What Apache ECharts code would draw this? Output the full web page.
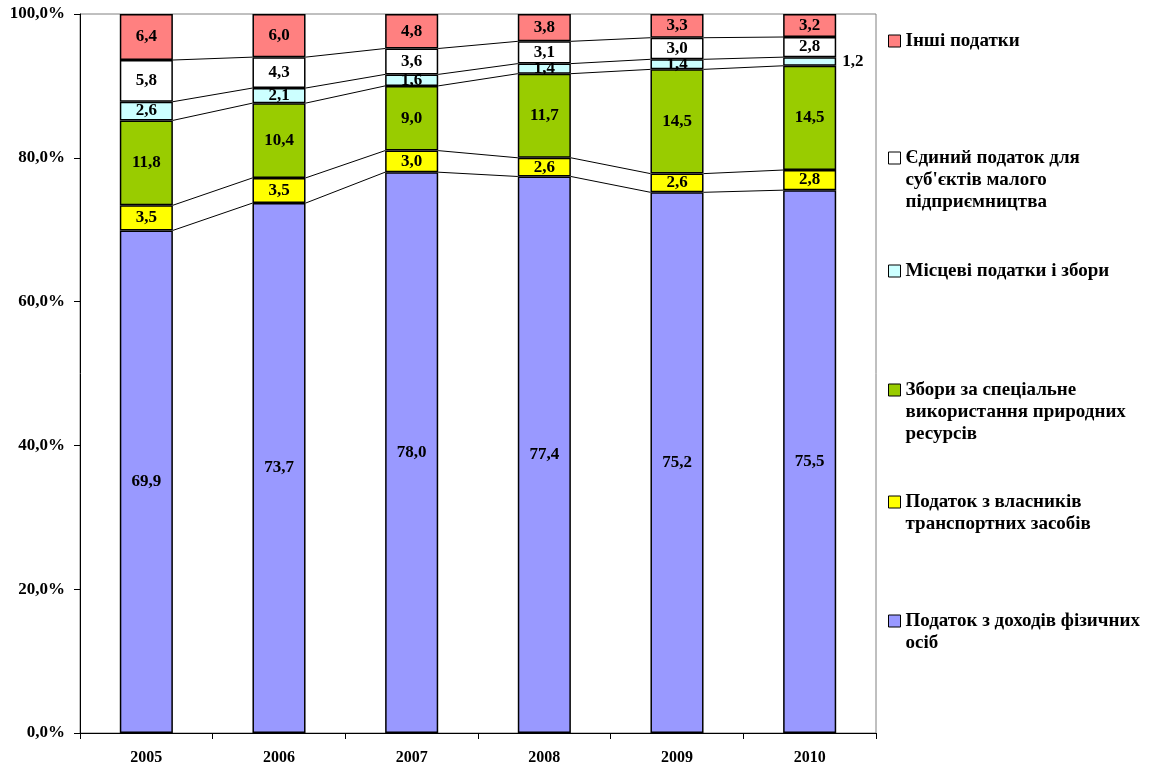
<!DOCTYPE html>
<html>
<head>
<meta charset="utf-8">
<script src="https://cdn.jsdelivr.net/npm/echarts@6/dist/echarts.min.js"></script>
<style>
html,body{margin:0;padding:0;background:#fff;}
#chart{width:1149px;height:769px;}
</style>
</head>
<body>
<div id="chart"></div>
<script>
var years = ['2005', '2006', '2007', '2008', '2009', '2010'];
var seriesNames = [
  'Податок з доходів фізичних осіб',
  'Податок з власників транспортних засобів',
  'Збори за спеціальне використання природних ресурсів',
  'Місцеві податки і збори',
  "Єдиний податок для суб'єктів малого підприємництва",
  'Інші податки'
];
var legendTexts = [
  'Податок з доходів фізичних\nосіб',
  'Податок з власників\nтранспортних засобів',
  'Збори за спеціальне\nвикористання природних\nресурсів',
  'Місцеві податки і збори',
  "Єдиний податок для\nсуб'єктів малого\nпідприємництва",
  'Інші податки'
];
var pit      = [69.9, 73.7, 78.0, 77.4, 75.2, 75.5];
var vehicle  = [3.5, 3.5, 3.0, 2.6, 2.6, 2.8];
var nature   = [11.8, 10.4, 9.0, 11.7, 14.5, 14.5];
var local    = [2.6, 2.1, 1.6, 1.4, 1.4, 1.2];
var single   = [5.8, 4.3, 3.6, 3.1, 3.0, 2.8];
var other    = [6.4, 6.0, 4.8, 3.8, 3.3, 3.2];
var yTicks = [0, 20, 40, 60, 80, 100];

var values = [pit, vehicle, nature, local, single, other];
var colors = ['#9999FF', '#FFFF00', '#99CC00', '#CCFFFF', '#FFFFFF', '#FF8080'];
var legendY = [621, 502, 390, 271, 158, 41];
var FONT = '"Liberation Serif", "Times New Roman", serif';
var BAR_RATIO = 0.4;

function fmt(v) { return v.toFixed(1).replace('.', ','); }

// cumulative boundaries for series lines
var lineData = [];
for (var i = 0; i < years.length - 1; i++) {
  var c1 = 0, c2 = 0;
  for (var s = 0; s < values.length - 1; s++) {
    c1 += values[s][i];
    c2 += values[s][i + 1];
    lineData.push([i, +c1.toFixed(2), +c2.toFixed(2)]);
  }
}

var series = values.map(function (arr, si) {
  return {
    name: seriesNames[si],
    type: 'bar',
    stack: 'total',
    barWidth: (BAR_RATIO * 100) + '%',
    itemStyle: { color: colors[si], borderColor: '#000', borderWidth: 1.5 },
    label: {
      show: true,
      position: 'inside',
      color: '#000',
      fontFamily: FONT,
      fontWeight: 'bold',
      fontSize: 17,
      formatter: function (p) { return fmt(p.value); }
    },
    data: arr.map(function (v, idx) {
      if (si === 3 && idx === years.length - 1) {
        return { value: v, label: { position: 'right', distance: 6 } };
      }
      return v;
    })
  };
});

series.push({
  type: 'custom',
  silent: true,
  z: 1,
  encode: { x: 0, y: 1 },
  renderItem: function (params, api) {
    var p1 = api.coord([api.value(0), api.value(1)]);
    var p2 = api.coord([api.value(0) + 1, api.value(2)]);
    var half = api.size([1, 0])[0] * BAR_RATIO / 2;
    return {
      type: 'line',
      shape: { x1: p1[0] + half, y1: p1[1], x2: p2[0] - half, y2: p2[1] },
      style: { stroke: '#000', lineWidth: 1 }
    };
  },
  data: lineData
});

var legends = seriesNames.map(function (name, si) {
  var txt = legendTexts[si];
  var n = txt.split('\n').length;
  var lh = 22;
  var pre = '';
  for (var k = 1; k < n; k++) pre += ' \n';
  var totalH = (2 * n - 1) * lh;
  return {
    data: [name],
    orient: 'vertical',
    left: 888,
    top: legendY[si] - totalH / 2,
    padding: 0,
    itemWidth: 12,
    itemHeight: 12,
    itemGap: 0,
    icon: 'rect',
    selectedMode: false,
    itemStyle: { borderColor: '#000', borderWidth: 1 },
    textStyle: { fontFamily: FONT, fontWeight: 'bold', fontSize: 19, color: '#000', lineHeight: lh },
    formatter: function () { return pre + txt; }
  };
});

var chart = echarts.init(document.getElementById('chart'));
chart.setOption({
  animation: false,
  backgroundColor: '#fff',
  grid: { left: 80, right: 273, top: 14, bottom: 36, show: true, borderColor: '#808080', borderWidth: 1 },
  legend: legends,
  xAxis: {
    type: 'category',
    data: years,
    axisLine: { lineStyle: { color: '#000', width: 1 } },
    axisTick: { show: true, length: 6, lineStyle: { color: '#000' } },
    axisLabel: { color: '#000', fontFamily: FONT, fontWeight: 'bold', fontSize: 16, margin: 17 }
  },
  yAxis: {
    type: 'value',
    min: yTicks[0],
    max: yTicks[yTicks.length - 1],
    interval: yTicks[1] - yTicks[0],
    axisLine: { show: true, lineStyle: { color: '#000', width: 1 } },
    axisTick: { show: true, length: 6, lineStyle: { color: '#000' } },
    splitLine: { show: false },
    axisLabel: {
      color: '#000', fontFamily: FONT, fontWeight: 'bold', fontSize: 17, margin: 15,
      formatter: function (v) { return fmt(v) + '%'; }
    }
  },
  series: series
});
</script>
</body>
</html>
